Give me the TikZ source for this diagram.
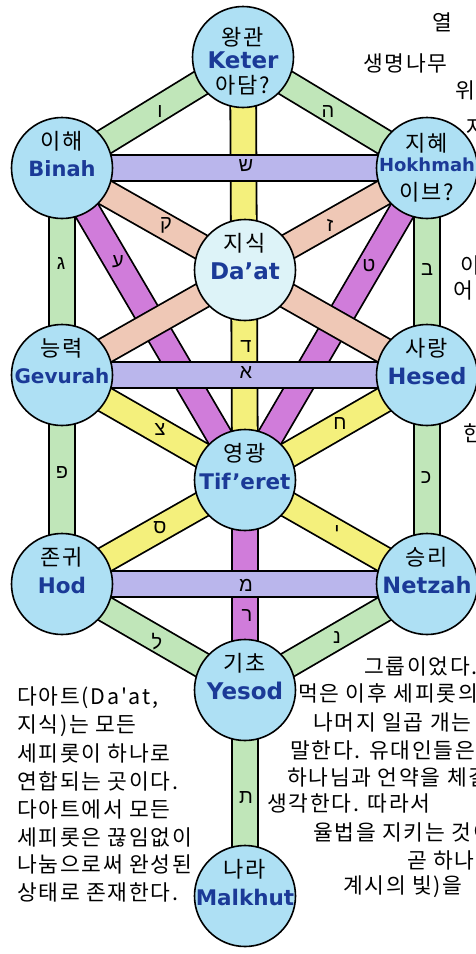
\documentclass[tikz,border=0pt]{standalone}
\usepackage{fontspec}
\setmainfont{DejaVu Sans}
\newfontfamily\hangul[LetterSpace=8]{Noto Sans CJK KR}
\newfontfamily\hebrew[Script=Hebrew]{Liberation Sans}
\usetikzlibrary{backgrounds}
\definecolor{sefblue}{HTML}{AEE0F4}
\definecolor{daatblue}{HTML}{DDF3F8}
\definecolor{nameblue}{HTML}{1B3A97}
\definecolor{pathgreen}{HTML}{C0E6B9}
\definecolor{pathlilac}{HTML}{BAB6EC}
\definecolor{pathorchid}{HTML}{D07CDA}
\definecolor{pathpeach}{HTML}{EFC8B6}
\definecolor{pathyellow}{HTML}{F4F07C}
\tikzset{
  sefira/.style={circle, draw, line width=1.6pt, fill=sefblue,
    minimum size=101pt, inner sep=0pt},
  daatcircle/.style={sefira, fill=daatblue},
  korlab/.style={font=\hangul\fontsize{#1}{#1}\selectfont, inner sep=0pt},
  korlab/.default=22,
  englab/.style={font=\bfseries\fontsize{#1}{#1}\selectfont, text=nameblue, inner sep=0pt},
  englab/.default=22,
  letter/.style={font=\hebrew\fontsize{20}{20}\selectfont, inner sep=0pt},
  note/.style={font=\hangul\fontsize{21.5}{21.5}\selectfont, anchor=west, inner sep=0pt},
  pathbar/.style={line width=1.8pt, double distance=24pt},
  greenbar/.style={pathbar, double=pathgreen},
  lilacbar/.style={pathbar, double=pathlilac},
  orchidbar/.style={pathbar, double=pathorchid},
  peachbar/.style={pathbar, double=pathpeach},
  yellowbar/.style={pathbar, double=pathyellow}
}

\begin{document}
\begin{tikzpicture}[x=1pt,y=-1pt]
  \useasboundingbox (0,0) rectangle (476,954);
  \clip (0,0) rectangle (476,954);
  \foreach \nm/\px/\py in {keter/243/57,binah/62/168,hokhmah/427/168,gevurah/62/375,
      hesed/427/375,tiferet/245/480,hod/62/584,netzah/427/584,yesod/245/690,malkhut/245/896} {
    \node[sefira] (\nm) at (\px,\py) {};
  }
  \node[daatcircle] (daat) at (245,270) {};

  \begin{pgfonlayer}{background}
    \foreach \a/\b in {keter/binah,keter/hokhmah,binah/gevurah,gevurah/hod,hokhmah/hesed,
        hesed/netzah,hod/yesod,netzah/yesod,yesod/malkhut}
      \draw[greenbar] (\a.center) -- (\b.center);
    \foreach \a/\b in {binah/tiferet,hokhmah/tiferet,tiferet/yesod}
      \draw[orchidbar] (\a.center) -- (\b.center);
    \foreach \a/\b in {binah/hesed,hokhmah/gevurah}
      \draw[peachbar] (\a.center) -- (\b.center);
    \foreach \a/\b in {keter/tiferet,gevurah/tiferet,hesed/tiferet,hod/tiferet,netzah/tiferet}
      \draw[yellowbar] (\a.center) -- (\b.center);
    \foreach \a/\b in {binah/hokhmah,gevurah/hesed,hod/netzah}
      \draw[lilacbar] (\a.center) -- (\b.center);
  \end{pgfonlayer}

  \node[korlab] (keterK) at ([yshift=20pt]keter.center) {왕관};
  \node[englab=23] (keterE) at ([yshift=-3pt]keter.center) {Keter};
  \node[korlab] (keterA) at ([yshift=-28pt]keter.center) {아담?};
  \node[korlab] (hokhmahK) at ([yshift=25pt]hokhmah.center) {지혜};
  \node[englab=18] (hokhmahE) at ([yshift=3pt]hokhmah.center) {Hokhmah};
  \node[korlab] (hokhmahA) at ([yshift=-24pt]hokhmah.center) {이브?};
  \foreach \nm/\kor/\eng/\sz in {binah/이해/Binah/21,daat/지식/Da'at/23,gevurah/능력/Gevurah/20,
      hesed/사랑/Hesed/22.5,tiferet/영광/Tif'eret/21.5,hod/존귀/Hod/21.5,netzah/승리/Netzah/22.5,
      yesod/기초/Yesod/23,malkhut/나라/Malkhut/21.5} {
    \node[korlab] (\nm K) at ([yshift=27pt]\nm.center) {\kor};
    \node[englab=\sz] (\nm E) at ([yshift=-1pt]\nm.center) {\eng};
  }

  \foreach \px/\py/\ch [count=\i] in {160/112/ו,328/112/ה,246/166/ש,166/225/ק,330/225/ז,
      61/264/ג,118/262/ע,369/266/ט,427/270/ב,246/347/ד,246/373/א,160/430/צ,340/424/ח,
      62/473/פ,426/478/כ,160/528/ס,337/532/י,246/585/מ,247/615/ר,157/642/ל,337/637/נ,246/797/ת}
    \node[letter] (ltr\i) at (\px,\py) {\ch};

  \foreach \ln [count=\i from 0] in {{다아트(Da'at,},지식)는 모든,세피롯이 하나로,연합되는 곳이다.,
      다아트에서 모든,세피롯은 끊임없이,나눔으로써 완성된,상태로 존재한다.}
    \node[note] (left\i) at (17,698+27.8*\i) {\ln};

  \foreach \px/\py/\ln [count=\i] in {432/22/열,363/63/생명나무,455/90/위해,466/127/자,
      460/265/이,453/290/어,463/433/한,
      364/666/그룹이었다.,298/693/먹은 이후 세피롯의,313/722/나머지 일곱 개는,
      290/750/말한다. 유대인들은,287/777/하나님과 언약을 체결,267/803/생각한다. 따라서,
      313/832/율법을 지키는 것이,407/860/곧 하나님,343/887/계시의 빛)을}
    \node[note] (right\i) at (\px,\py) {\ln};
\end{tikzpicture}
\end{document}
